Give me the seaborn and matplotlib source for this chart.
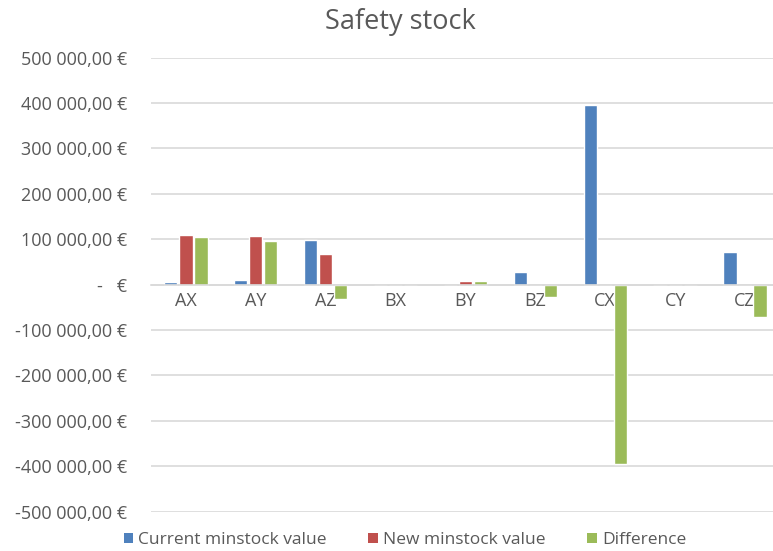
import matplotlib
matplotlib.use("Agg")
import matplotlib.pyplot as plt
import matplotlib.ticker as mticker
from matplotlib.patches import Patch
import pandas as pd
import seaborn as sns

# Safety stock values per ABC/XYZ class (EUR)
categories = ["AX", "AY", "AZ", "BX", "BY", "BZ", "CX", "CY", "CZ"]
current_minstock = [5000, 11000, 98000, 0, 0, 28000, 396000, 0, 72000]
new_minstock = [110000, 107000, 67000, 0, 8000, 0, 0, 0, 0]
difference = [105000, 96000, -31000, 0, 8000, -28000, -396000, 0, -72000]
series_names = ["Current minstock value", "New minstock value", "Difference"]
series_colors = ["#4F81BD", "#C0504D", "#9BBB59"]
y_ticks = list(range(-500000, 500001, 100000))

sns.set_theme(style="white")
plt.rcParams["font.family"] = ["Open Sans", "DejaVu Sans"]
text_color = "#595959"
grid_color = "#D9D9D9"

df = pd.DataFrame({
    "category": categories * 3,
    "series": [series_names[0]] * 9 + [series_names[1]] * 9 + [series_names[2]] * 9,
    "value": current_minstock + new_minstock + difference,
})

fig = plt.figure(figsize=(7.73, 5.51), dpi=100)
ax = fig.add_axes([0.1953, 0.0713, 0.8137, 0.8243])

sns.barplot(data=df, x="category", y="value", hue="series",
            hue_order=series_names, palette=series_colors,
            order=categories, width=0.645, gap=0.12, ax=ax,
            legend=False, saturation=1, errorbar=None)

ax.set_ylim(-500000, 500000)
ax.set_xlim(-0.5, len(categories) - 0.5)
ax.set_yticks(y_ticks)


def euro(v, _pos):
    if v == 0:
        return "-   €"
    s = f"{abs(v):,.2f}".replace(",", " ").replace(".", ",")
    return ("-" if v < 0 else "") + s + " €"


ax.yaxis.set_major_formatter(mticker.FuncFormatter(euro))
ax.yaxis.grid(True, color=grid_color, linewidth=1.2)
ax.set_axisbelow(True)
for side in ["top", "right", "left"]:
    ax.spines[side].set_visible(False)
ax.spines["bottom"].set_position(("data", 0))
ax.spines["bottom"].set_color(grid_color)
ax.spines["bottom"].set_linewidth(1.2)
ax.tick_params(axis="both", length=0, colors=text_color, labelsize=13)
ax.tick_params(axis="y", pad=17)
ax.tick_params(axis="x", pad=5)
ax.set_xlabel("")
ax.set_ylabel("")

fig.text(400 / 773, 1 - 22 / 551, "Safety stock", ha="center", va="center",
         fontsize=19.5, color=text_color)

handles = [Patch(facecolor=c, edgecolor="none") for c in series_colors]
fig.legend(handles, series_names, loc="center", ncol=3,
           bbox_to_anchor=(405 / 773, 1 - 540 / 551), frameon=False,
           fontsize=12.5, labelcolor=text_color, handlelength=0.55,
           handleheight=0.55, handletextpad=0.3, columnspacing=2.4,
           borderpad=0.1)

fig.savefig("out.png", dpi=100)
